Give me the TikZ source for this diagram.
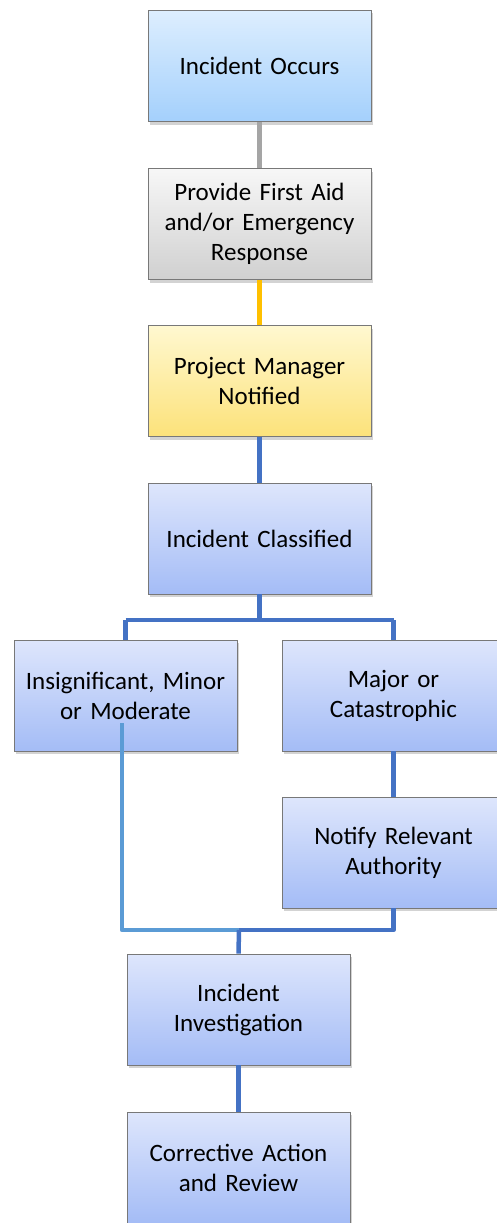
\documentclass[tikz,border=0pt]{standalone}
\usepackage{fontspec}
\setmainfont{Carlito}
\usepackage{xcolor}
\usepackage{tikz}
\usetikzlibrary{positioning,shadows}
\definecolor{flowbluetop}{RGB}{222,230,252}
\definecolor{flowbluebot}{RGB}{164,188,246}
\definecolor{flowskytop}{RGB}{221,238,254}
\definecolor{flowskybot}{RGB}{164,208,252}
\definecolor{flowgreytop}{RGB}{247,247,247}
\definecolor{flowgreybot}{RGB}{208,208,208}
\definecolor{flowyellowtop}{RGB}{255,248,208}
\definecolor{flowyellowbot}{RGB}{252,226,122}
\definecolor{flowedge}{RGB}{120,120,120}
\definecolor{linkgrey}{RGB}{165,165,165}
\definecolor{linkorange}{RGB}{255,192,0}
\definecolor{linkblue}{RGB}{68,114,196}
\definecolor{linklight}{RGB}{91,155,213}

\begin{document}
\begin{tikzpicture}[
  x=1pt, y=1pt,
  every node/.style={font=\fontsize{25}{30}\selectfont},
  stage/.style={draw=flowedge, line width=0.8pt, top color=flowbluetop, bottom color=flowbluebot,
                minimum width=223pt, minimum height=111pt, text width=216pt, align=center,
                inner sep=0pt,
                drop shadow={opacity=0.35, shadow xshift=2pt, shadow yshift=-3pt}},
  start/.style={stage, top color=flowskytop, bottom color=flowskybot},
  aid/.style={stage, top color=flowgreytop, bottom color=flowgreybot},
  notice/.style={stage, top color=flowyellowtop, bottom color=flowyellowbot},
  link/.style={line width=4.5pt, draw=linkblue, line join=round}
]
\useasboundingbox (0,0) rectangle (496,-1223);

\node[start]  (occurs)  at (259.5,-66)   {Incident Occurs};
\node[aid]    (aid)     at (259.5,-224)  {Provide First Aid\\and/or Emergency\\Response};
\node[notice] (pm)      at (259.5,-381)  {Project Manager\\Notified};
\node[stage]  (class)   at (259.5,-538.5){Incident Classified};
\node[stage]  (minor)   at (125.5,-695.5){Insignificant, Minor\\or Moderate};
\node[stage]  (major)   at (393.5,-695.5){Major or\\Catastrophic};
\node[stage]  (notify)  at (393.5,-852.5){Notify Relevant\\Authority};
\node[stage]  (invest)  at (238.5,-1009.5){Incident\\Investigation};
\node[stage]  (review)  at (238.5,-1167.5){Corrective Action\\and Review};

\coordinate (split) at (259.5,-620);
\coordinate (join) at (239,-930);
\coordinate (minorfoot) at (122,-723);

\draw[link, draw=linkgrey] (occurs) -- (aid);
\draw[link, draw=linkorange] (aid) -- (pm);
\draw[link] (pm) -- (class);
\draw[link] (class) -- (split);
\draw[link] (minor.north |- split) -- (major.north |- split);
\draw[link] (minor.north |- split) -- (minor.north);
\draw[link] (major.north |- split) -- (major.north);
\draw[link] (major) -- (notify);
\draw[link, draw=linklight] (minorfoot) |- (join);
\draw[link] (notify.south) |- (join);
\draw[link] (join) -- (invest.north);
\draw[link] (invest) -- (review);
\end{tikzpicture}
\end{document}
